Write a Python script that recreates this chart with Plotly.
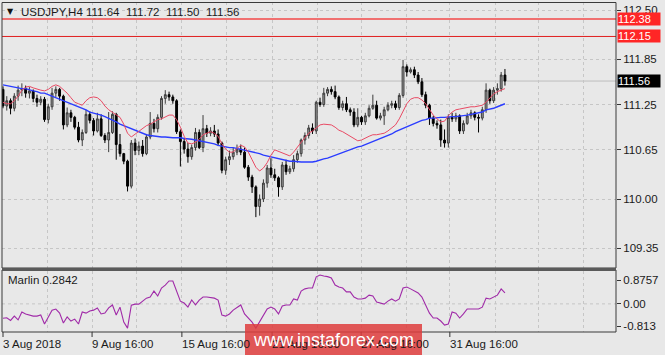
import plotly.graph_objects as go

W, H = 665, 355

# ---------------- data ----------------
opens = [111.45,111.23,111.30,111.20,111.36,111.44,111.46,111.40,111.43,111.33,
         111.28,111.32,111.05,111.22,111.40,111.45,111.36,110.98,111.14,111.08,
         110.95,110.78,110.88,111.12,111.04,110.90,111.06,110.84,110.78,110.88,
         111.12,110.72,110.60,110.50,110.17,110.74,110.64,110.70,110.60,110.82,
         111.00,110.93,111.08,111.33,111.38,111.35,111.30,110.89,110.76,110.66,
         110.56,110.68,110.88,110.68,110.93,110.87,110.90,110.86,110.74,110.38,
         110.52,110.56,110.62,110.66,110.62,110.42,110.29,110.16,109.90,110.00,
         110.21,110.41,110.32,110.28,110.16,110.45,110.36,110.40,110.52,110.60,
         110.78,110.84,110.94,110.90,111.28,111.25,111.40,111.45,111.42,111.35,
         111.21,111.26,111.18,111.15,110.98,111.08,111.02,111.10,111.20,111.24,
         111.07,111.10,111.18,111.24,111.26,111.21,111.37,111.75,111.68,111.71,
         111.64,111.55,111.38,111.24,111.07,111.00,110.98,110.78,110.74,111.08,
         111.06,111.10,110.90,111.00,111.10,111.14,111.08,111.07,111.18,111.44,
         111.30,111.44,111.46,111.64]
highs = [111.49,111.36,111.33,111.40,111.50,111.53,111.50,111.48,111.45,111.38,
         111.36,111.35,111.26,111.47,111.49,111.47,111.38,111.21,111.18,111.10,
         111.02,110.92,111.18,111.16,111.07,111.14,111.12,110.87,111.15,111.16,
         111.14,110.86,110.61,110.52,110.78,110.80,110.76,110.78,110.86,111.15,
         111.06,111.12,111.36,111.44,111.42,111.38,111.32,110.92,110.80,110.74,
         110.72,110.94,110.92,111.11,110.98,110.95,110.98,110.92,110.76,110.56,
         110.64,110.68,110.72,110.72,110.68,110.45,110.32,110.18,110.06,110.26,
         110.45,110.54,110.40,110.30,110.49,110.52,110.44,110.58,110.64,110.80,
         110.88,110.98,111.00,111.30,111.34,111.47,111.48,111.49,111.50,111.37,
         111.30,111.35,111.21,111.20,111.20,111.10,111.14,111.24,111.38,111.30,
         111.14,111.22,111.28,111.30,111.30,111.40,111.84,111.78,111.74,111.75,
         111.68,111.60,111.42,111.26,111.10,111.04,111.05,110.92,111.12,111.14,
         111.14,111.12,111.04,111.14,111.18,111.16,111.12,111.22,111.53,111.46,
         111.48,111.53,111.68,111.72]
lows = [111.20,111.17,111.12,111.16,111.30,111.36,111.34,111.33,111.28,111.22,
        111.24,111.02,111.00,111.18,111.35,111.30,110.92,110.95,111.02,110.92,
        110.75,110.70,110.86,111.00,110.84,110.88,110.82,110.74,110.62,110.86,
        110.52,110.56,110.46,110.10,110.14,110.58,110.58,110.56,110.58,110.79,
        110.88,110.88,111.05,111.26,111.30,111.26,110.86,110.43,110.60,110.48,
        110.52,110.64,110.66,110.62,110.82,110.83,110.82,110.70,110.34,110.32,
        110.45,110.52,110.58,110.58,110.40,110.24,110.08,109.76,109.78,109.96,
        110.15,110.28,110.24,110.03,110.12,110.32,110.33,110.36,110.48,110.56,
        110.72,110.80,110.86,110.86,111.22,111.22,111.36,111.38,111.32,111.18,
        111.17,111.15,111.10,110.95,110.95,110.98,110.98,111.08,111.18,111.05,
        111.04,110.98,111.16,111.20,111.18,111.18,111.34,111.62,111.66,111.60,
        111.52,111.35,111.20,110.98,110.96,110.93,110.69,110.68,110.68,111.02,
        111.02,110.86,110.86,110.98,111.06,111.04,110.88,111.04,111.14,111.26,
        111.27,111.38,111.42,111.50]
closes = [111.23,111.30,111.20,111.36,111.44,111.46,111.40,111.43,111.33,111.28,
          111.32,111.05,111.22,111.40,111.45,111.36,110.98,111.14,111.08,110.95,
          110.78,110.88,111.12,111.04,110.90,111.06,110.84,110.78,110.88,111.12,
          110.72,110.60,110.50,110.17,110.74,110.64,110.70,110.60,110.82,111.00,
          110.93,111.08,111.33,111.38,111.35,111.30,110.89,110.76,110.66,110.56,
          110.68,110.88,110.68,110.93,110.87,110.90,110.86,110.74,110.38,110.52,
          110.56,110.62,110.66,110.62,110.42,110.29,110.16,109.90,110.00,110.21,
          110.41,110.32,110.28,110.16,110.45,110.36,110.40,110.52,110.60,110.78,
          110.84,110.94,110.90,111.28,111.25,111.40,111.45,111.42,111.35,111.21,
          111.26,111.18,111.15,110.98,111.08,111.02,111.10,111.20,111.24,111.07,
          111.10,111.18,111.24,111.26,111.21,111.37,111.75,111.68,111.71,111.64,
          111.55,111.38,111.24,111.07,111.00,110.98,110.78,110.74,111.08,111.06,
          111.10,110.90,111.00,111.10,111.14,111.08,111.07,111.18,111.44,111.30,
          111.44,111.46,111.64,111.56]

ma_fast = [111.28,111.26,111.26,111.30,111.36,111.44,111.48,111.49,111.47,111.45,
           111.44,111.43,111.45,111.49,111.51,111.49,111.45,111.40,111.34,111.28,
           111.26,111.24,111.30,111.34,111.35,111.34,111.30,111.23,111.18,111.15,
           111.12,111.08,110.99,110.87,110.82,110.86,110.90,110.94,110.97,110.99,
           111.02,111.05,111.06,111.08,111.11,111.11,111.05,110.95,110.83,110.74,
           110.73,110.75,110.79,110.85,110.87,110.89,110.87,110.83,110.73,110.66,
           110.62,110.62,110.67,110.71,110.69,110.62,110.52,110.42,110.37,110.41,
           110.48,110.58,110.65,110.63,110.61,110.58,110.57,110.62,110.69,110.75,
           110.81,110.87,110.90,110.94,110.98,110.99,110.99,110.98,110.95,110.91,
           110.89,110.86,110.82,110.79,110.77,110.78,110.81,110.83,110.85,110.85,
           110.86,110.87,110.90,110.94,110.98,111.06,111.16,111.26,111.32,111.34,
           111.34,111.31,111.26,111.18,111.11,111.06,111.02,111.03,111.10,111.15,
           111.18,111.19,111.20,111.20,111.22,111.22,111.23,111.24,111.28,111.34,
           111.39,111.42,111.44,111.46]
ma_slow = [111.51,111.50,111.49,111.48,111.47,111.46,111.46,111.44,111.43,111.42,
           111.40,111.40,111.38,111.36,111.35,111.33,111.31,111.28,111.26,111.24,
           111.22,111.20,111.18,111.15,111.14,111.12,111.11,111.09,111.07,111.05,
           111.02,110.99,110.97,110.94,110.92,110.90,110.88,110.86,110.85,110.84,
           110.83,110.83,110.82,110.82,110.81,110.81,110.81,110.81,110.80,110.79,
           110.79,110.78,110.77,110.77,110.75,110.74,110.73,110.71,110.70,110.69,
           110.68,110.68,110.67,110.66,110.65,110.64,110.62,110.61,110.60,110.58,
           110.57,110.56,110.54,110.53,110.52,110.51,110.50,110.50,110.49,110.49,
           110.49,110.49,110.49,110.50,110.52,110.53,110.54,110.56,110.58,110.60,
           110.62,110.64,110.65,110.67,110.69,110.70,110.72,110.74,110.75,110.77,
           110.79,110.81,110.83,110.86,110.89,110.91,110.94,110.96,110.98,111.00,
           111.02,111.04,111.05,111.07,111.07,111.08,111.08,111.08,111.09,111.09,
           111.09,111.10,111.10,111.11,111.12,111.13,111.14,111.15,111.18,111.19,
           111.20,111.22,111.24,111.26]
marlin = [-0.53,-0.51,-0.61,-0.45,-0.59,-0.30,-0.37,-0.41,-0.45,-0.45,
          -0.41,-0.74,-0.48,-0.23,-0.19,-0.34,-0.70,-0.48,-0.63,-0.56,
          -0.74,-0.30,-0.34,-0.26,-0.23,-0.15,-0.37,-0.34,-0.15,-0.04,
          -0.41,-0.12,-0.67,-0.89,-0.05,-0.01,-0.01,0.10,0.21,0.25,
          0.47,0.29,0.58,0.69,0.84,0.84,0.47,0.10,0.03,-0.12,
          0.14,-0.04,0.14,0.25,0.25,0.23,0.21,0.14,-0.41,-0.45,
          -0.37,-0.23,-0.12,-0.04,-0.37,-0.52,-0.67,-0.89,-0.67,-0.45,
          -0.19,-0.12,-0.19,-0.37,-0.08,-0.04,-0.04,0.18,0.14,0.47,
          0.55,0.58,0.58,0.99,1.06,1.02,1.00,0.95,0.69,0.62,
          0.58,0.44,0.44,0.25,0.18,0.18,0.21,0.32,0.29,0.07,
          0.03,-0.01,0.10,0.18,0.10,0.18,0.58,0.62,0.55,0.47,
          0.40,0.25,-0.08,-0.34,-0.52,-0.52,-0.63,-0.78,-0.74,-0.30,
          -0.34,-0.52,-0.37,-0.19,-0.19,-0.19,-0.19,-0.12,0.21,0.18,
          0.25,0.32,0.55,0.40]
bars = list(range(len(closes)))

price_ticks = [112.50, 111.85, 111.25, 110.65, 110.00, 109.35]
price_tick_text = ["112.50", "111.85", "111.25", "110.65", "110.00", "109.35"]
marlin_ticks = [0.8757, 0.0, -0.813]
marlin_tick_text = ["0.8757", "0.00", "-0.813"]
time_labels = ["3 Aug 2018", "9 Aug 16:00", "15 Aug 16:00", "21 Aug 16:00", "27 Aug 16:00", "31 Aug 16:00"]
time_label_pos = [0, 23.6, 47.4, 71.3, 94.9, 118.4]
grid_pos = [11.66, 23.6, 35.5, 47.4, 59.35, 71.3, 83.2, 94.9, 106.8, 118.4, 130.4, 142.0, 153.7]
levels = [112.38, 112.15]
level_colors = ["#f07070", "#e01e1e"]
level_widths = [2, 1]
ohlc_header = ["111.64", "111.72", "111.50", "111.56"]
last_price = 111.56
marlin_last = "0.2842"

# ---------------- geometry helpers (pixel -> paper) ----------------
def px(x):
    return x / W

def py(y):
    return 1 - y / H

FONT = "Liberation Sans"
BG = "#e8e8e8"
GRID = "#c6c6c6"

fig = go.Figure()
fig.add_trace(go.Candlestick(
    x=bars, open=opens, high=highs, low=lows, close=closes,
    xaxis="x", yaxis="y", whiskerwidth=0,
    increasing=dict(line=dict(color="#3c3c3c", width=1), fillcolor="#9c9c9c"),
    decreasing=dict(line=dict(color="#000000", width=1), fillcolor="#000000"),
    showlegend=False, hoverinfo="skip"))
fig.add_trace(go.Scatter(x=bars, y=ma_slow, mode="lines", xaxis="x", yaxis="y",
                         line=dict(color="#2a3cff", width=1.4), showlegend=False, hoverinfo="skip"))
fig.add_trace(go.Scatter(x=bars, y=ma_fast, mode="lines", xaxis="x", yaxis="y",
                         line=dict(color="#e84a64", width=1.0), showlegend=False, hoverinfo="skip"))
fig.add_trace(go.Scatter(x=bars, y=marlin, mode="lines", xaxis="x2", yaxis="y2",
                         line=dict(color="#a02aa8", width=1.1), showlegend=False, hoverinfo="skip"))

xr = [(2 - 3) / 3.774, (616 - 3) / 3.774]
main_dom = [py(268), py(2)]
ind_dom = [py(332), py(271)]

common_x = dict(domain=[px(2), px(616)], range=xr, tickvals=grid_pos, showticklabels=False,
                showgrid=True, gridcolor=GRID, griddash="3px,3px", gridwidth=1,
                zeroline=False, showline=False, ticks="", fixedrange=True)

fig.update_layout(
    width=W, height=H, margin=dict(l=0, r=0, t=0, b=0),
    paper_bgcolor=BG, plot_bgcolor=BG, showlegend=False,
    font=dict(family=FONT, size=11, color="#1a1a1a"),
    xaxis=dict(anchor="y", rangeslider=dict(visible=False), **common_x),
    xaxis2=dict(anchor="y2", matches="x", **common_x),
    yaxis=dict(domain=main_dom, range=[112.5 - 258 / 75.6, 112.5 + 8 / 75.6], side="right",
               tickvals=price_ticks, ticktext=price_tick_text, ticks="outside", ticklen=4,
               tickcolor="#333333", tickfont=dict(family=FONT, size=11.5, color="#1a1a1a"),
               showgrid=True, gridcolor=GRID, griddash="3px,3px", zeroline=False,
               showline=False, anchor="x"),
    yaxis2=dict(domain=ind_dom, range=[-1.033, 1.206], side="right",
                tickvals=marlin_ticks, ticktext=marlin_tick_text, ticks="outside", ticklen=4,
                tickcolor="#333333", tickfont=dict(family=FONT, size=11.5, color="#1a1a1a"),
                showgrid=False, zeroline=False, showline=False, anchor="x2"),
)

shapes = []
# level lines
for lv, c, w in zip(levels, level_colors, level_widths):
    shapes.append(dict(type="line", xref="paper", yref="y", x0=px(2), x1=px(616), y0=lv, y1=lv,
                       line=dict(color=c, width=w), layer="above"))
# bid line
shapes.append(dict(type="line", xref="paper", yref="y", x0=px(2), x1=px(616), y0=last_price, y1=last_price,
                   line=dict(color="#bdbdbd", width=1), layer="below"))
# zero line in indicator
shapes.append(dict(type="line", xref="paper", yref="y2", x0=px(2), x1=px(616), y0=0, y1=0,
                   line=dict(color=GRID, width=1, dash="3px,3px"), layer="below"))
# pane borders
shapes.append(dict(type="rect", xref="paper", yref="paper", x0=px(2), x1=px(616), y0=py(268), y1=py(2.5),
                   line=dict(color="#3a3a3a", width=1), fillcolor="rgba(0,0,0,0)", layer="above"))
shapes.append(dict(type="rect", xref="paper", yref="paper", x0=px(2), x1=px(616), y0=py(332), y1=py(270),
                   line=dict(color="#3a3a3a", width=1), fillcolor="rgba(0,0,0,0)", layer="above"))
shapes.append(dict(type="rect", xref="paper", yref="paper", x0=px(2), x1=px(616), y0=py(271), y1=py(268),
                   line=dict(width=0), fillcolor="#5a5a5a", layer="above"))
# time tick marks
for tp in time_label_pos:
    shapes.append(dict(type="line", xref="x2", yref="paper", x0=tp, x1=tp, y0=py(332), y1=py(337),
                       line=dict(color="#333333", width=1)))
# watermark box
shapes.append(dict(type="rect", xref="paper", yref="paper", x0=px(245), x1=px(422), y0=py(356), y1=py(324),
                   line=dict(width=0), fillcolor="rgba(222,60,60,0.85)", layer="above"))

annotations = []
# title
annotations.append(dict(xref="paper", yref="paper", x=px(5), y=py(12), xanchor="left", yanchor="middle",
                        text="▼", showarrow=False, font=dict(size=8, color="#111111", family="DejaVu Sans")))
annotations.append(dict(xref="paper", yref="paper", x=px(19), y=py(12), xanchor="left", yanchor="middle",
                        text="USDJPY,H4", showarrow=False, font=dict(size=11.5, color="#1a1a1a", family=FONT)))
for k, t in enumerate(ohlc_header):
    annotations.append(dict(xref="paper", yref="paper", x=px(84 + 40 * k), y=py(12), xanchor="left",
                            yanchor="middle", text=t, showarrow=False,
                            font=dict(size=11.5, color="#1a1a1a", family=FONT)))
# marlin label
annotations.append(dict(xref="paper", yref="paper", x=px(6), y=py(280), xanchor="left", yanchor="middle",
                        text="Marlin " + marlin_last, showarrow=False,
                        font=dict(size=11.5, color="#1a1a1a", family=FONT)))
# price tags
tag_colors = ["#ff2626", "#ff2626"]
for lv, c in zip(levels, tag_colors):
    annotations.append(dict(xref="paper", yref="y", x=px(617), y=lv, xanchor="left", yanchor="middle",
                            text=f"{lv:.2f}", showarrow=False, bgcolor=c, borderpad=0, width=42,
                            align="left", font=dict(size=11, color="#ffffff", family=FONT)))
annotations.append(dict(xref="paper", yref="y", x=px(617), y=last_price, xanchor="left", yanchor="middle",
                        text=f"{last_price:.2f}", showarrow=False, bgcolor="#000000", borderpad=0, width=42,
                        align="left", font=dict(size=11, color="#ffffff", family=FONT)))
# time labels
for tp, t in zip(time_label_pos, time_labels):
    annotations.append(dict(xref="x2", yref="paper", x=tp, y=py(344), xanchor="left", yanchor="middle",
                            text=t, showarrow=False, xshift=-2,
                            font=dict(size=11.5, color="#1a1a1a", family=FONT)))
# watermark text
annotations.append(dict(xref="paper", yref="paper", x=px(333.5), y=py(340), xanchor="center", yanchor="middle",
                        text="www.instaforex.com", showarrow=False,
                        font=dict(size=18, color="#ffffff", family=FONT)))

fig.update_layout(shapes=shapes, annotations=annotations)
fig.write_html("out.html")
